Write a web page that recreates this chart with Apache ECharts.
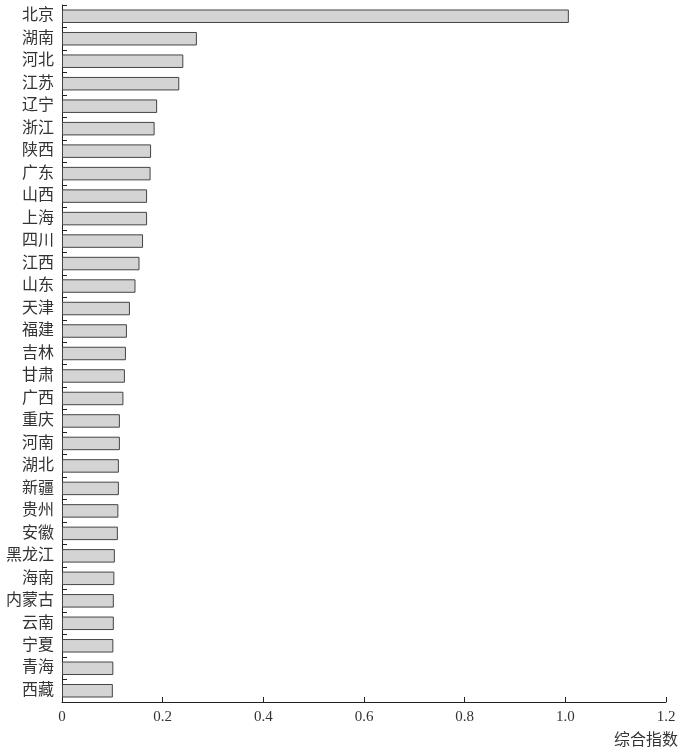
<!DOCTYPE html>
<html>
<head>
<meta charset="utf-8">
<script src="https://cdn.jsdelivr.net/npm/echarts@6/dist/echarts.min.js"></script>
<style>
  html, body { margin: 0; padding: 0; background: #fff; }
  #chart { width: 681px; height: 753px; }
</style>
</head>
<body>
<div id="chart"></div>
<script>
// provinces, top to bottom
var provinces = ['北京', '湖南', '河北', '江苏', '辽宁', '浙江', '陕西', '广东', '山西', '上海',
    '四川', '江西', '山东', '天津', '福建', '吉林', '甘肃', '广西', '重庆', '河南',
    '湖北', '新疆', '贵州', '安徽', '黑龙江', '海南', '内蒙古', '云南', '宁夏', '青海', '西藏'];

// composite index
var indexValues = [1.007, 0.268, 0.241, 0.233, 0.189, 0.184, 0.177, 0.176, 0.169, 0.169,
    0.161, 0.154, 0.146, 0.135, 0.129, 0.127, 0.125, 0.122, 0.115, 0.115,
    0.113, 0.113, 0.112, 0.111, 0.105, 0.104, 0.103, 0.103, 0.102, 0.102, 0.101];

var axisName = '综合指数';

var serifFont = '"Liberation Serif", "Noto Sans CJK SC", serif';

var chart = echarts.init(document.getElementById('chart'));

var option = {
    animation: false,
    backgroundColor: '#fff',
    grid: {
        left: 62,
        right: 14,
        top: 5,
        bottom: 51,
        containLabel: false
    },
    xAxis: {
        type: 'value',
        min: 0,
        max: 1.2,
        interval: 0.2,
        name: axisName,
        nameLocation: 'end',
        nameGap: 12,
        nameTextStyle: {
            fontFamily: serifFont,
            fontSize: 16,
            color: '#333',
            align: 'right',
            verticalAlign: 'top',
            padding: [31, 0, 0, 0]
        },
        axisLine: { show: true, lineStyle: { color: '#222', width: 1 } },
        axisTick: { show: true, inside: true, length: 5, lineStyle: { color: '#222' } },
        axisLabel: {
            fontFamily: serifFont,
            fontSize: 15,
            color: '#333',
            margin: 8,
            formatter: function (v) {
                return v === 0 ? '0' : v.toFixed(1);
            }
        },
        splitLine: { show: false }
    },
    yAxis: {
        type: 'category',
        inverse: true,
        data: provinces,
        axisLine: { show: true, lineStyle: { color: '#222', width: 1 } },
        axisTick: { show: true, inside: true, length: 5, alignWithLabel: false, lineStyle: { color: '#222' } },
        axisLabel: {
            fontFamily: serifFont,
            fontSize: 16,
            color: '#333',
            margin: 8,
            interval: 0
        },
        splitLine: { show: false }
    },
    series: [
        {
            name: axisName,
            type: 'bar',
            data: indexValues,
            barCategoryGap: '40%',
            itemStyle: {
                color: '#d4d4d4',
                borderColor: '#444',
                borderWidth: 1
            }
        }
    ]
};

chart.setOption(option);
</script>
</body>
</html>
